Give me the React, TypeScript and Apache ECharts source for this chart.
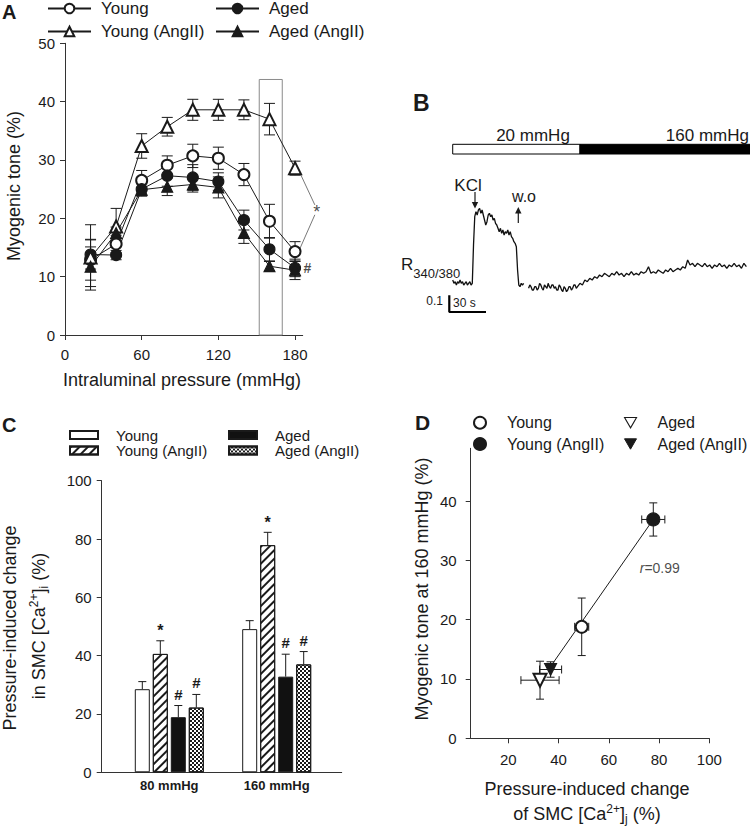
import React, { useEffect, useRef } from 'react';
import * as echarts from 'echarts';

const FONT = "'Liberation Sans', Arial, Helvetica, sans-serif";
const INK = '#1a1a1a';
const AXIS = '#333333';

// ---------------- Panel A : myogenic tone vs pressure ----------------
const pressureMmHg = [20, 40, 60, 80, 100, 120, 140, 160, 180];
const toneYoung = [12.9, 15.6, 26.5, 29.1, 30.7, 30.3, 27.5, 19.5, 14.3];
const toneYoungErr = [3.5, 1.5, 1.7, 1.6, 2.0, 1.9, 1.9, 2.9, 1.7];
const toneAged = [13.8, 13.7, 25.0, 27.3, 27.0, 26.3, 19.7, 14.7, 11.5];
const toneAgedErr = [2.5, 0.8, 1.2, 1.8, 2.2, 1.5, 1.7, 2.0, 1.5];
const toneYoungAng = [13.3, 18.6, 32.4, 35.7, 38.6, 38.6, 38.6, 37.0, 28.6];
const toneYoungAngErr = [5.6, 3.1, 2.1, 1.6, 1.8, 1.8, 1.7, 2.7, 1.2];
const toneAgedAng = [11.7, 17.5, 24.9, 25.4, 25.8, 25.3, 17.5, 11.8, 11.1];
const toneAgedAngErr = [3.4, 1.0, 1.0, 1.5, 1.3, 1.8, 1.8, 0.8, 1.6];
const pressureTicks = [0, 60, 120, 180];
const boxPressure = [152, 170];
const boxTone = [0, 43.8];
const starLinks = [
  [184, 27.7, 195.5, 22.3],
  [195.5, 20.6, 184, 14.9],
];
const starMarkA = [197, 21.0];
const hashMarkA = [189.6, 11.4];

// ---------------- Panel B : Fura-2 ratio trace ----------------
const phaseLabels = ['20 mmHg', '160 mmHg'];
const phaseStart = [0, 104];
const phaseEnd = [104, 250];
const trace: (number | null)[][] = [
  [0, 0.74], [1, 0.72], [2, 0.73], [3, 0.71], [4, 0.73], [5, 0.72], [6, 0.74], [7, 0.72], [8, 0.73], [9, 0.71],
  [10, 0.72], [11, 0.73], [12, 0.71], [13, 0.72], [14, 0.73], [15, 0.71], [16, 0.72], [17, 0.95], [18, 1.12], [19, 1.15],
  [20, 1.13], [21, 1.16], [22, 1.17], [23, 1.14], [24, 1.16], [25, 1.13], [26, 1.10], [27, 1.07], [28, 1.09], [29, 1.13],
  [30, 1.14], [31, 1.12], [32, 1.13], [33, 1.10], [34, 1.11], [35, 1.08], [36, 1.07], [37, 1.05], [38, 1.03], [39, 1.05],
  [40, 1.02], [41, 1.04], [42, 1.01], [43, 1.03], [44, 1.02], [45, 1.04], [46, 1.01], [47, 1.03], [48, 1.00], [49, 0.99],
  [50, 0.97], [51, 0.96], [52, 0.94], [53, 0.80], [54, 0.71], [55, 0.70], [56, 0.72], [57, 0.71], [58, 0.72], [60, null],
  [62, 0.69], [63, 0.71], [64, 0.70], [65, 0.68], [66, 0.68], [67, 0.70], [68, 0.70], [69, 0.68], [70, 0.69], [71, 0.72],
  [72, 0.71], [73, 0.69], [74, 0.68], [75, 0.71], [76, 0.70], [77, 0.69], [78, 0.72], [79, 0.70], [80, 0.69], [81, 0.71],
  [82, 0.71], [83, 0.69], [84, 0.70], [85, 0.68], [86, 0.68], [87, 0.71], [88, 0.70], [89, 0.68], [90, 0.67], [91, 0.70],
  [92, 0.69], [93, 0.67], [94, 0.68], [95, 0.70], [96, 0.70], [97, 0.68], [98, 0.69], [99, 0.71], [100, 0.71], [101, 0.69],
  [102, 0.70], [104, 0.72], [106, 0.71], [108, 0.74], [110, 0.73], [112, 0.75], [114, 0.74], [116, 0.76], [118, 0.75], [120, 0.77],
  [122, 0.76], [124, 0.78], [126, 0.77], [128, 0.76], [130, 0.78], [132, 0.77], [134, 0.79], [136, 0.77], [138, 0.78], [140, 0.76],
  [142, 0.78], [144, 0.77], [146, 0.79], [148, 0.77], [150, 0.78], [152, 0.77], [154, 0.79], [156, 0.78], [158, 0.79], [160, 0.82],
  [162, 0.78], [164, 0.79], [166, 0.78], [168, 0.80], [170, 0.79], [172, 0.78], [174, 0.80], [176, 0.79], [178, 0.81], [180, 0.79],
  [182, 0.80], [184, 0.81], [186, 0.80], [188, 0.82], [190, 0.81], [192, 0.86], [194, 0.83], [196, 0.84], [198, 0.82], [200, 0.84],
  [202, 0.83], [204, 0.82], [206, 0.84], [208, 0.82], [210, 0.83], [212, 0.81], [214, 0.83], [216, 0.82], [218, 0.84], [220, 0.82],
  [222, 0.83], [224, 0.81], [226, 0.83], [228, 0.82], [230, 0.84], [232, 0.82], [234, 0.83], [236, 0.81], [238, 0.84], [240, 0.82],
];
const scaleBarOrigin = [-2.8, 0.548];
const scaleBarTime = 30;
const scaleBarRatio = 0.1;

// ---------------- Panel C : pressure-induced Ca change ----------------
const caCategories = ['80 mmHg', '160 mmHg'];
const caYoung = [28.5, 49.1];
const caYoungErr = [2.6, 2.9];
const caYoungSig = ['', ''];
const caYoungAng = [40.6, 77.9];
const caYoungAngErr = [4.5, 4.4];
const caYoungAngSig = ['*', '*'];
const caAged = [18.9, 32.8];
const caAgedErr = [4.0, 7.7];
const caAgedSig = ['#', '#'];
const caAgedAng = [22.2, 37.0];
const caAgedAngErr = [4.5, 4.4];
const caAgedAngSig = ['#', '#'];

// ---------------- Panel D : tone vs Ca change ----------------
const dCa = [49.2, 77.7, 32.6, 36.8];
const dCaErr = [2.8, 4.6, 7.6, 4.4];
const dTone = [18.8, 36.9, 9.8, 11.6];
const dToneErr = [4.85, 2.8, 3.2, 1.3];
const dFit = [[36.8, 12.1], [77.7, 36.9]];
const dRLabelPos = [72.1, 28.8];
const dTicksX = [20, 40, 60, 80, 100];
const dTicksY = [0, 10, 20, 30, 40];

const INV_TRI = 'path://M0,0L10,0L5,8.66Z';

const axisCommon = (extra: any = {}) => ({
  axisLine: { show: true, lineStyle: { color: AXIS, width: 1 } },
  axisTick: { show: true, length: 5, inside: false, lineStyle: { color: AXIS, width: 1 }, ...(extra.tick || {}) },
  axisLabel: { color: INK, fontSize: 15, fontFamily: FONT, ...(extra.label || {}) },
  splitLine: { show: false },
});

const lineStyleEl = { stroke: INK, lineWidth: 1 };

function errBarsA(vals: number[], errs: number[]) {
  return {
    type: 'custom', xAxisIndex: 0, yAxisIndex: 0, z: 2, silent: true,
    data: pressureMmHg.map((p, i) => [p, vals[i], errs[i]]),
    encode: { x: 0, y: 1 },
    renderItem: (_p: any, api: any) => {
      const x = api.value(0), y = api.value(1), e = api.value(2);
      const t = api.coord([x, y + e]);
      const b = api.coord([x, y - e]);
      return {
        type: 'group', children: [
          { type: 'line', shape: { x1: t[0], y1: t[1], x2: b[0], y2: b[1] }, style: lineStyleEl },
          { type: 'line', shape: { x1: t[0] - 5.5, y1: t[1], x2: t[0] + 5.5, y2: t[1] }, style: lineStyleEl },
          { type: 'line', shape: { x1: b[0] - 5.5, y1: b[1], x2: b[0] + 5.5, y2: b[1] }, style: lineStyleEl },
        ],
      };
    },
  };
}

function lineA(name: string, vals: number[], symbol: string, size: number) {
  return {
    name, type: 'line', xAxisIndex: 0, yAxisIndex: 0, z: 3,
    data: pressureMmHg.map((p, i) => [p, vals[i]]),
    symbol, symbolSize: size, showSymbol: true,
    lineStyle: { color: INK, width: 1 },
    itemStyle: { color: INK, borderColor: INK, borderWidth: 1.1 },
  };
}

const hatchDecal = {
  symbol: 'rect', symbolSize: 1, dashArrayX: [1, 0], dashArrayY: [1.3, 3.8],
  rotation: -Math.PI / 4, color: INK, backgroundColor: '#ffffff',
};
const checkerDecal = {
  symbol: 'rect', symbolSize: 1, dashArrayX: [[2, 2], [0, 2, 2, 0]], dashArrayY: [2, 0],
  rotation: 0, color: INK, backgroundColor: '#ffffff',
};

function barC(name: string, vals: number[], itemStyle: any) {
  return {
    name, type: 'bar', xAxisIndex: 3, yAxisIndex: 3, z: 2,
    barWidth: 15, barGap: '20%',
    data: vals, itemStyle: { borderColor: INK, borderWidth: 1, ...itemStyle },
  };
}

function errBarsC(vals: number[], errs: number[], sigs: string[], k: number) {
  return {
    type: 'custom', xAxisIndex: 3, yAxisIndex: 3, z: 5, silent: true,
    data: vals.map((v, i) => [i, v, errs[i]]),
    encode: { x: 0, y: 1 },
    renderItem: (params: any, api: any) => {
      const i = params.dataIndex;
      const base = api.coord([api.value(0), api.value(1)]);
      const top = api.coord([api.value(0), api.value(1) + api.value(2)]);
      const x = base[0] + (k - 1.5) * 18;
      const children: any[] = [
        { type: 'line', shape: { x1: x, y1: base[1], x2: x, y2: top[1] }, style: lineStyleEl },
        { type: 'line', shape: { x1: x - 4, y1: top[1], x2: x + 4, y2: top[1] }, style: lineStyleEl },
      ];
      if (sigs[i]) {
        const star = sigs[i] === '*';
        children.push({
          type: 'text', x, y: top[1] - (star ? 2 : 4),
          style: {
            text: sigs[i], align: 'center', verticalAlign: 'bottom', fontSize: star ? 16 : 15,
            fontWeight: 'bold', fontFamily: FONT, fill: INK,
          },
        });
      }
      return { type: 'group', children };
    },
  };
}

function scatterD(name: string, idx: number, symbol: string, size: number, rotate: number) {
  return {
    name, type: 'scatter', xAxisIndex: 4, yAxisIndex: 4, z: 4,
    data: [[dCa[idx], dTone[idx]]],
    symbol, symbolSize: size, symbolRotate: rotate,
    itemStyle: { color: INK, borderColor: INK, borderWidth: 1.1, opacity: 1 },
  };
}

function textLabelSeries(xIdx: number, pos: number[], text: string, extra: any = {}) {
  return {
    type: 'scatter', xAxisIndex: xIdx, yAxisIndex: xIdx, z: 6, silent: true, clip: false,
    data: [pos], symbolSize: 1, itemStyle: { color: 'rgba(0,0,0,0)' },
    label: { show: true, position: 'inside', formatter: text, color: INK, fontFamily: FONT, fontSize: 15, ...extra },
  };
}

const legendBase = (item: any, left: number, top: number, fontSize: number, opts: any) => ({
  data: [item], left, top, orient: 'horizontal', selectedMode: false, padding: 0,
  formatter: (n: string) => n.replace(/^[CD]:/, ''),
  textStyle: { color: INK, fontSize, fontFamily: FONT, ...(opts.textStyle || {}) },
  itemWidth: opts.itemWidth, itemHeight: opts.itemHeight,
  ...(opts.icon ? { icon: opts.icon } : {}),
});

const supRich = (size: number) => ({
  n: { fontSize: size, fontFamily: FONT, fill: INK, color: INK, lineHeight: 22, verticalAlign: 'middle' },
  sup: { fontSize: 12, fontFamily: FONT, fill: INK, color: INK, verticalAlign: 'top' },
  sub: { fontSize: 12, fontFamily: FONT, fill: INK, color: INK, verticalAlign: 'bottom' },
});

function buildOption(): any {
  const t = (text: string, x: number, y: number, o: any = {}) => ({
    type: 'text', x, y, rotation: o.rotation || 0, silent: true,
    style: {
      text, fill: INK, fontFamily: FONT, fontSize: o.fontSize || 18, fontWeight: o.fontWeight || 'normal',
      fontStyle: o.fontStyle || 'normal',
      align: o.align || 'center', verticalAlign: o.verticalAlign || 'middle', ...(o.rich ? { rich: o.rich } : {}),
    },
  });

  const graphic: any[] = [
    t('A', 2, 12, { fontSize: 20, fontWeight: 'bold', align: 'left' }),
    t('B', 413, 103, { fontSize: 23, fontWeight: 'bold', align: 'left' }),
    t('C', 2, 425, { fontSize: 20, fontWeight: 'bold', align: 'left' }),
    t('D', 415, 422, { fontSize: 21, fontWeight: 'bold', align: 'left' }),
    t('Myogenic tone (%)', 14, 186, { rotation: Math.PI / 2 }),
    t('Intraluminal pressure (mmHg)', 182, 380),
    t(phaseLabels[0], 533, 135, { fontSize: 17 }),
    t(phaseLabels[1], 749, 135, { fontSize: 17, align: 'right' }),
    t('KCl', 468, 185, { fontSize: 17 }),
    t('w.o', 524, 196, { fontSize: 16 }),
    {
      type: 'text', x: 401, y: 268, silent: true,
      style: {
        text: '{r|R}{s|340/380}', align: 'left', verticalAlign: 'middle',
        rich: {
          r: { fontSize: 17, fontFamily: FONT, fill: INK, color: INK, lineHeight: 24, verticalAlign: 'top' },
          s: { fontSize: 13, fontFamily: FONT, fill: INK, color: INK, verticalAlign: 'bottom' },
        },
      },
    },
    t('0.1', 443, 301, { fontSize: 12, align: 'right' }),
    t('30 s', 453, 303, { fontSize: 12, align: 'left' }),
    { type: 'line', silent: true, shape: { x1: 475, y1: 192, x2: 475, y2: 204 }, style: { stroke: INK, lineWidth: 1.2 } },
    { type: 'polygon', silent: true, shape: { points: [[471.8, 202], [478.2, 202], [475, 208.5]] }, style: { fill: INK } },
    { type: 'line', silent: true, shape: { x1: 518.3, y1: 223, x2: 518.3, y2: 211 }, style: { stroke: INK, lineWidth: 1.2 } },
    { type: 'polygon', silent: true, shape: { points: [[515.1, 213.5], [521.5, 213.5], [518.3, 207]] }, style: { fill: INK } },
    t('Pressure-induced change', 10, 628, { rotation: Math.PI / 2 }),
    t('{n|in SMC [Ca}{sup|2+}{n|]}{sub|i}{n| (%)}', 39, 626, { rotation: Math.PI / 2, rich: supRich(18) }),
    t('Myogenic tone at 160 mmHg (%)', 422, 589, { rotation: Math.PI / 2 }),
    t('Pressure-induced change', 587, 789),
    t('{n|of SMC [Ca}{sup|2+}{n|]}{sub|j}{n| (%)}', 587, 814, { rich: supRich(18) }),
  ];

  const series: any[] = [
    errBarsA(toneYoung, toneYoungErr),
    errBarsA(toneAged, toneAgedErr),
    errBarsA(toneYoungAng, toneYoungAngErr),
    errBarsA(toneAgedAng, toneAgedAngErr),
    {
      ...lineA('Young', toneYoung, 'emptyCircle', 11),
      markArea: {
        silent: true,
        itemStyle: { color: 'rgba(0,0,0,0)', borderColor: '#8a8a8a', borderWidth: 1 },
        data: [[{ xAxis: boxPressure[0], yAxis: boxTone[0] }, { xAxis: boxPressure[1], yAxis: boxTone[1] }]],
      },
    },
    lineA('Aged', toneAged, 'circle', 11),
    lineA('Young (AngII)', toneYoungAng, 'emptyTriangle', 12),
    lineA('Aged (AngII)', toneAgedAng, 'triangle', 11),
    {
      type: 'custom', xAxisIndex: 0, yAxisIndex: 0, silent: true, z: 1, clip: false,
      data: starLinks,
      encode: { x: [0, 2], y: [1, 3] },
      renderItem: (_p: any, api: any) => {
        const a = api.coord([api.value(0), api.value(1)]);
        const b = api.coord([api.value(2), api.value(3)]);
        return { type: 'line', shape: { x1: a[0], y1: a[1], x2: b[0], y2: b[1] }, style: { stroke: '#555', lineWidth: 0.8 } };
      },
    },
    textLabelSeries(0, starMarkA, '*', { fontSize: 18 }),
    textLabelSeries(0, hashMarkA, '#', { fontSize: 14, fontWeight: 'bold' }),
    {
      type: 'custom', xAxisIndex: 1, yAxisIndex: 1, silent: true, z: 2,
      data: phaseStart.map((s, i) => [s, phaseEnd[i], i]),
      encode: { x: [0, 1] },
      renderItem: (params: any, api: any) => {
        const a = api.coord([api.value(0), 1]);
        const b = api.coord([api.value(1), 1]);
        const dark = params.dataIndex === 1;
        return {
          type: 'rect', shape: { x: a[0], y: 144.3, width: b[0] - a[0], height: 9.7 },
          style: { fill: dark ? '#000' : '#fff', stroke: '#000', lineWidth: 1 },
        };
      },
    },
    {
      type: 'line', xAxisIndex: 1, yAxisIndex: 1, silent: true, symbol: 'none', clip: false, z: 3,
      data: trace.map((p) => [p[0], p[1] === null ? '-' : p[1]]),
      lineStyle: { color: '#111', width: 1.3 },
    },
    {
      type: 'line', xAxisIndex: 1, yAxisIndex: 1, silent: true, symbol: 'none', clip: false, z: 3,
      data: [
        [scaleBarOrigin[0], scaleBarOrigin[1] + scaleBarRatio],
        [scaleBarOrigin[0], scaleBarOrigin[1]],
        [scaleBarOrigin[0] + scaleBarTime, scaleBarOrigin[1]],
      ],
      lineStyle: { color: '#000', width: 2.2 },
    },
    barC('C:Young', caYoung, { color: '#ffffff' }),
    barC('C:Young (AngII)', caYoungAng, { color: '#ffffff', decal: hatchDecal }),
    barC('C:Aged', caAged, { color: '#111111' }),
    barC('C:Aged (AngII)', caAgedAng, { color: '#ffffff', decal: checkerDecal }),
    errBarsC(caYoung, caYoungErr, caYoungSig, 0),
    errBarsC(caYoungAng, caYoungAngErr, caYoungAngSig, 1),
    errBarsC(caAged, caAgedErr, caAgedSig, 2),
    errBarsC(caAgedAng, caAgedAngErr, caAgedAngSig, 3),
    {
      type: 'line', xAxisIndex: 4, yAxisIndex: 4, silent: true, symbol: 'none', z: 1,
      data: dFit, lineStyle: { color: INK, width: 1 },
    },
    {
      type: 'custom', xAxisIndex: 4, yAxisIndex: 4, silent: true, z: 2,
      data: dCa.map((x, i) => [x, dTone[i], dCaErr[i], dToneErr[i]]),
      encode: { x: 0, y: 1 },
      renderItem: (_p: any, api: any) => {
        const x = api.value(0), y = api.value(1), ex = api.value(2), ey = api.value(3);
        const l = api.coord([x - ex, y]);
        const r = api.coord([x + ex, y]);
        const tp = api.coord([x, y + ey]);
        const bt = api.coord([x, y - ey]);
        return {
          type: 'group', children: [
            { type: 'line', shape: { x1: l[0], y1: l[1], x2: r[0], y2: r[1] }, style: lineStyleEl },
            { type: 'line', shape: { x1: l[0], y1: l[1] - 4, x2: l[0], y2: l[1] + 4 }, style: lineStyleEl },
            { type: 'line', shape: { x1: r[0], y1: r[1] - 4, x2: r[0], y2: r[1] + 4 }, style: lineStyleEl },
            { type: 'line', shape: { x1: tp[0], y1: tp[1], x2: bt[0], y2: bt[1] }, style: lineStyleEl },
            { type: 'line', shape: { x1: tp[0] - 4, y1: tp[1], x2: tp[0] + 4, y2: tp[1] }, style: lineStyleEl },
            { type: 'line', shape: { x1: bt[0] - 4, y1: bt[1], x2: bt[0] + 4, y2: bt[1] }, style: lineStyleEl },
          ],
        };
      },
    },
    scatterD('D:Young', 0, 'emptyCircle', 12, 0),
    scatterD('D:Young (AngII)', 1, 'circle', 13, 0),
    scatterD('D:Aged', 2, 'emptyTriangle', 13, 180),
    scatterD('D:Aged (AngII)', 3, 'triangle', 12, 180),
    {
      type: 'scatter', xAxisIndex: 4, yAxisIndex: 4, z: 6, silent: true, clip: false,
      data: [dRLabelPos], symbolSize: 1, itemStyle: { color: 'rgba(0,0,0,0)' },
      label: {
        show: true, position: 'right', distance: 0, formatter: '{i|r}=0.99', color: INK, fontFamily: FONT, fontSize: 14,
        rich: { i: { fontStyle: 'italic', fontSize: 14, fontFamily: FONT, color: INK } },
      },
    },
  ];

  const legA = { itemWidth: 43, itemHeight: 12, textStyle: { padding: [0, 0, 0, 5], lineHeight: 20 } };
  const legC = { itemWidth: 28, itemHeight: 8, icon: 'rect', textStyle: { padding: [0, 0, 0, 13], lineHeight: 15 } };
  const legD = { itemWidth: 12, itemHeight: 12, textStyle: { padding: [0, 0, 0, 16], lineHeight: 18 } };
  const openInv = { name: 'D:Aged', icon: INV_TRI, itemStyle: { color: '#ffffff', borderColor: INK, borderWidth: 1.1 } };
  const fillInv = { name: 'D:Aged (AngII)', icon: INV_TRI, itemStyle: { color: INK, borderColor: INK, borderWidth: 1 } };

  return {
    animation: false,
    backgroundColor: '#ffffff',
    textStyle: { fontFamily: FONT },
    graphic,
    legend: [
      legendBase('Young', 47, -1.5, 17, legA),
      legendBase('Aged', 215, -1.5, 17, legA),
      legendBase('Young (AngII)', 47, 21.5, 17, legA),
      legendBase('Aged (AngII)', 215, 21.5, 17, legA),
      legendBase('C:Young', 69, 427.5, 15, legC),
      legendBase('C:Aged', 228, 427.5, 15, legC),
      legendBase('C:Young (AngII)', 69, 443, 15, legC),
      legendBase('C:Aged (AngII)', 228, 443, 15, legC),
      legendBase('D:Young', 473, 413.7, 16, legD),
      legendBase(openInv, 624, 413.7, 16, legD),
      legendBase('D:Young (AngII)', 473, 435, 16, legD),
      legendBase(fillInv, 624, 435, 16, legD),
    ],
    grid: [
      { left: 65, top: 43.3, width: 237.7, height: 291.7, outerBoundsMode: 'none' },
      { left: 446.6, top: 200, width: 301, height: 120, outerBoundsMode: 'none' },
      { left: 101.7, top: 480.7, width: 240, height: 291.6, outerBoundsMode: 'none' },
      { left: 115.6, top: 480.7, width: 214.8, height: 291.6, outerBoundsMode: 'none' },
      { left: 470.7, top: 448.3, width: 238.6, height: 290, outerBoundsMode: 'none' },
    ],
    xAxis: [
      {
        type: 'value', gridIndex: 0, min: 0, max: 186, interval: 60,
        ...axisCommon({ label: { margin: 12, customValues: pressureTicks }, tick: { customValues: pressureTicks } }),
      },
      { type: 'value', gridIndex: 1, min: -5, max: 241, show: false },
      {
        type: 'value', gridIndex: 2, min: 0, max: 1,
        axisLine: { show: true, lineStyle: { color: AXIS, width: 1 } },
        axisTick: { show: false }, axisLabel: { show: false }, splitLine: { show: false },
      },
      {
        type: 'category', gridIndex: 3, data: caCategories,
        axisLine: { show: false }, axisTick: { show: false }, splitLine: { show: false },
        axisLabel: { color: INK, fontSize: 13, fontWeight: 'bold', fontFamily: FONT, margin: 7 },
      },
      {
        type: 'value', gridIndex: 4, min: 5, max: 100,
        ...axisCommon({ label: { margin: 14, customValues: dTicksX }, tick: { customValues: dTicksX } }),
      },
    ],
    yAxis: [
      { type: 'value', gridIndex: 0, min: 0, max: 50, interval: 10, ...axisCommon({ label: { margin: 10 } }) },
      { type: 'value', gridIndex: 1, min: 0.5, max: 1.22, show: false },
      { type: 'value', gridIndex: 2, min: 0, max: 100, interval: 20, ...axisCommon({ label: { margin: 10 } }) },
      { type: 'value', gridIndex: 3, min: 0, max: 100, show: false },
      {
        type: 'value', gridIndex: 4, min: 0, max: 48.9,
        ...axisCommon({ label: { margin: 14, customValues: dTicksY }, tick: { customValues: dTicksY } }),
      },
    ],
    series,
  };
}

export default function App() {
  const ref = useRef<HTMLDivElement>(null);
  useEffect(() => {
    if (!ref.current) return;
    const chart = echarts.init(ref.current, null, { renderer: 'svg' });
    chart.setOption(buildOption());
    return () => chart.dispose();
  }, []);
  return <div ref={ref} style={{ position: 'fixed', left: 0, top: 0, width: 750, height: 830 }} />;
}
